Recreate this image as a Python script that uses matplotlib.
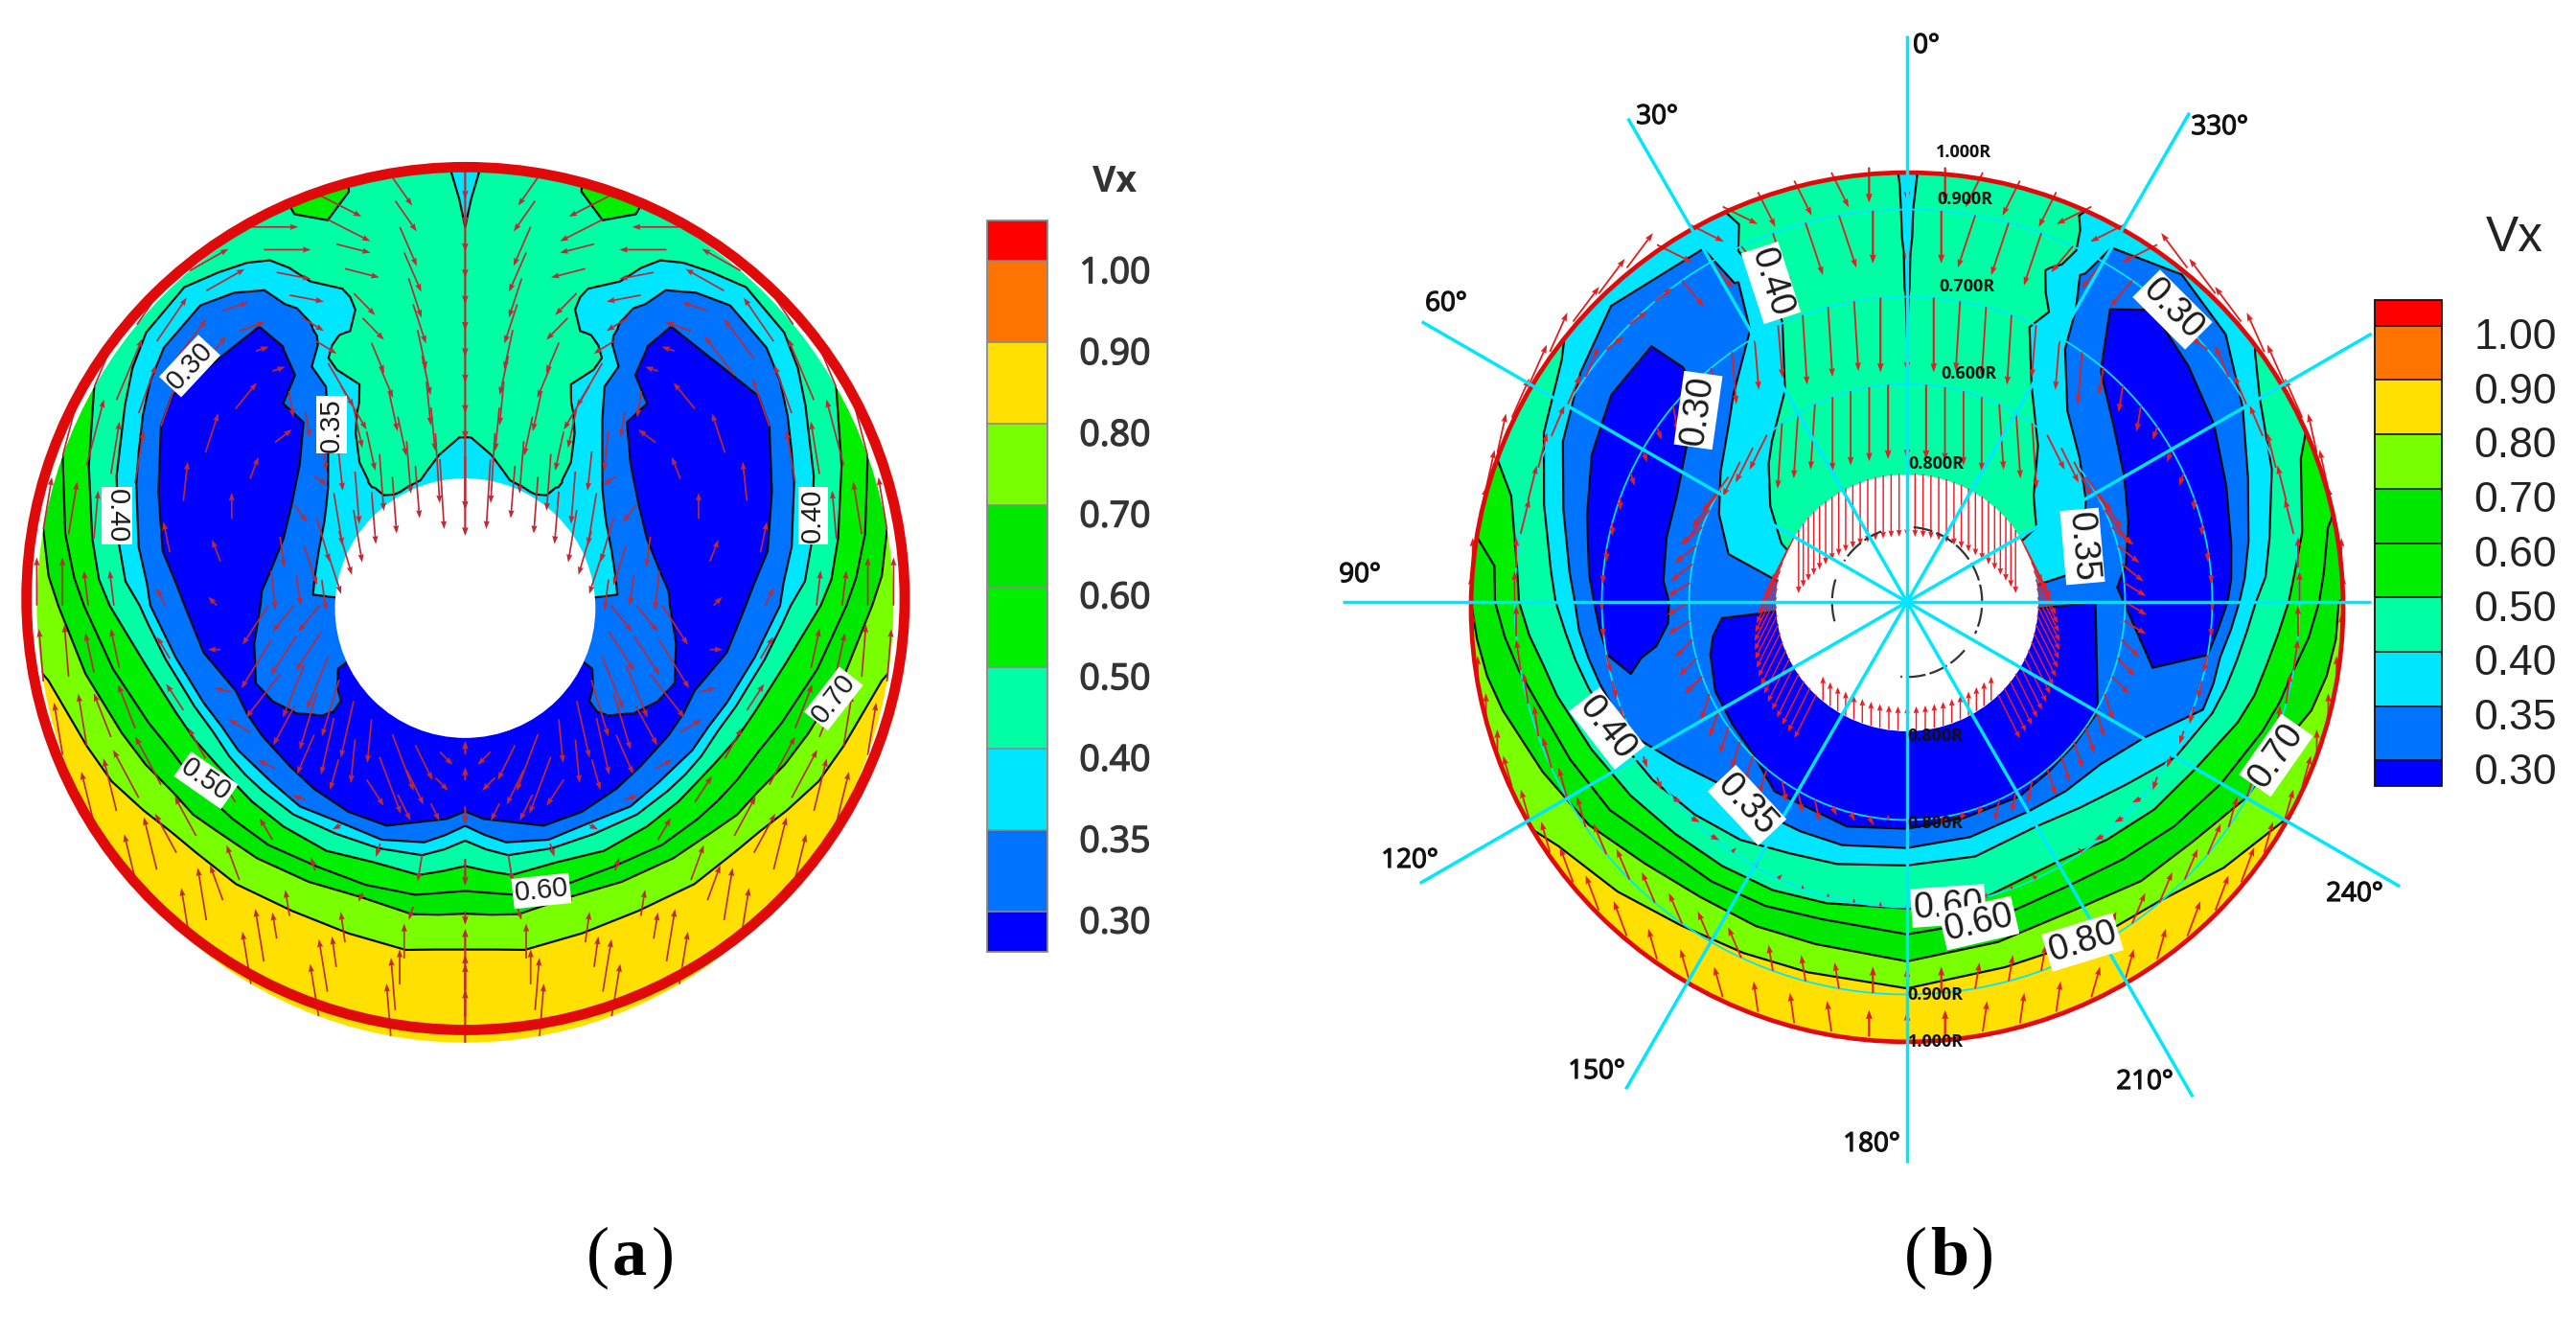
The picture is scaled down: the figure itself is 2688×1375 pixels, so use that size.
import numpy as np
import matplotlib
matplotlib.use("Agg")
import matplotlib.pyplot as plt
import matplotlib.patheffects as pe
from matplotlib.colors import ListedColormap, BoundaryNorm
from matplotlib.colorbar import Colorbar
from matplotlib.patches import Ellipse, Circle
from matplotlib.transforms import ScaledTranslation
from matplotlib.tri import Triangulation

W, H = 2688, 1375

# ---------- shared scale ----------
LEVELS = [0.30, 0.35, 0.40, 0.50, 0.60, 0.70, 0.80, 0.90, 1.00]
LEVEL_TEXT = ["0.30", "0.35", "0.40", "0.50", "0.60", "0.70", "0.80", "0.90", "1.00"]
COLORS = ["#0000ff", "#0073ff", "#00e6ff", "#00ffa5", "#00f000", "#00e800",
          "#78ff00", "#ffe000", "#ff7300", "#ff0000"]

# ---------- panel (a): Vx samples along rays, theta from the top, right half (mirrored) ----------
A_THETA = [0, 2, 10, 16, 20, 24, 26, 28, 30, 33, 37, 42, 50, 55, 60, 70, 80, 86, 90, 100, 110, 116, 122, 127, 132, 140, 150, 160, 170, 175, 180]
A_R = [
 [.29,.397,.65,.80,.866,.93,1.03],
 [.29,.385,.65,.80,.866,.93,1.0,1.03],
 [.29,.35,.65,.80,.90,1.03],
 [.29,.321,.65,.85,.985,1.03],
 [.29,.305,.65,.85,.938,1.03],
 [.29,.303,.65,.85,.98,1.03],
 [.29,.303,.42,.563,.70,.825,.95,1.03],
 [.29,.302,.41,.527,.70,.875,.96,1.03],
 [.29,.301,.40,.506,.688,.74,.785,.912,.97,1.03],
 [.29,.303,.38,.469,.597,.73,.86,.935,.98,1.03],
 [.29,.316,.36,.41,.532,.60,.66,.73,.799,.896,.955,1.03],
 [.29,.478,.564,.72,.855,.924,.98,1.03],
 [.29,.418,.504,.68,.851,.918,.972,1.03],
 [.29,.396,.473,.66,.836,.897,.948,1.03],
 [.29,.38,.467,.64,.82,.869,.917,1.0,1.03],
 [.29,.364,.451,.61,.762,.817,.866,.935,1.0,1.03],
 [.29,.357,.461,.60,.717,.774,.821,.884,.948,1.0,1.03],
 [.29,.356,.476,.58,.675,.745,.795,.857,.915,.975,1.03],
 [.29,.478,.57,.655,.735,.76,.83,.89,.95,1.03],
 [.29,.50,.56,.62,.686,.71,.76,.835,.90,.988,1.03],
 [.29,.52,.545,.57,.65,.673,.718,.786,.853,.94,1.03],
 [.29,.33,.42,.50,.53,.566,.632,.656,.702,.762,.83,.918,1.03],
 [.29,.352,.39,.465,.51,.56,.625,.65,.685,.75,.805,.885,1.03],
 [.29,.363,.39,.418,.47,.553,.613,.643,.675,.74,.795,.86,1.03],
 [.29,.40,.48,.55,.606,.635,.67,.73,.775,.845,1.03],
 [.29,.548,.60,.624,.66,.715,.755,.832,1.03],
 [.29,.545,.575,.603,.648,.69,.73,.807,1.03],
 [.29,.536,.57,.591,.625,.68,.71,.798,1.03],
 [.29,.52,.55,.58,.626,.672,.717,.80,1.03],
 [.29,.49,.527,.56,.61,.66,.71,.79,1.03],
 [.29,.471,.504,.538,.596,.653,.705,.787,1.03],
]
A_V = [
 [.385,.40,.47,.43,.40,.385,.37],
 [.385,.40,.47,.45,.44,.42,.40,.395],
 [.39,.40,.47,.47,.46,.45],
 [.395,.40,.47,.48,.50,.505],
 [.395,.40,.47,.48,.50,.53],
 [.395,.40,.47,.48,.50,.505],
 [.395,.40,.44,.40,.37,.40,.46,.47],
 [.395,.40,.43,.40,.36,.40,.46,.47],
 [.395,.40,.43,.40,.35,.345,.35,.40,.46,.47],
 [.39,.40,.415,.40,.35,.32,.35,.40,.46,.47],
 [.385,.40,.405,.40,.35,.32,.30,.29,.30,.35,.40,.46],
 [.385,.35,.30,.28,.30,.35,.40,.45],
 [.375,.35,.30,.27,.30,.35,.40,.46],
 [.372,.35,.30,.27,.30,.35,.40,.47],
 [.37,.35,.30,.27,.30,.35,.40,.50,.51],
 [.36,.35,.30,.27,.30,.35,.40,.50,.60,.62],
 [.355,.35,.30,.27,.30,.35,.40,.50,.60,.70,.71],
 [.352,.35,.30,.275,.30,.35,.40,.50,.60,.70,.73],
 [.34,.30,.28,.30,.35,.40,.50,.60,.70,.76],
 [.335,.30,.28,.30,.35,.40,.50,.60,.70,.80,.82],
 [.33,.30,.29,.30,.35,.40,.50,.60,.70,.80,.84],
 [.29,.30,.32,.30,.29,.30,.35,.40,.50,.60,.70,.80,.84],
 [.285,.30,.31,.30,.285,.30,.35,.40,.50,.60,.70,.80,.85],
 [.28,.30,.305,.30,.285,.30,.35,.40,.50,.60,.70,.80,.85],
 [.28,.285,.285,.30,.35,.40,.50,.60,.70,.80,.85],
 [.28,.30,.35,.40,.50,.60,.70,.80,.85],
 [.28,.30,.35,.40,.50,.60,.70,.80,.85],
 [.28,.30,.35,.40,.50,.60,.70,.80,.85],
 [.28,.30,.35,.40,.50,.60,.70,.80,.85],
 [.28,.30,.35,.40,.50,.60,.70,.80,.85],
 [.28,.30,.35,.40,.50,.60,.70,.80,.85],
]

# panel (a) velocity vectors, in 0.01 R, rows = theta, columns = radius
A_ARROW_THETA = [0, 10, 20, 30, 40, 50, 60, 70, 80, 90, 100, 110, 120, 130, 140, 150, 160, 170, 180]
A_ARROW_R = [.34, .46, .58, .70, .82, .94]
A_ARROW_U = [
 [0,0,0,0,0,0],[-1,-1,-2,-3,-4,-5],[-1,-2,-3,-5,-8,-10],[-1,-2,-6,-5,-8,-11],
 [-1,-1,-1,-3,-6,-9],[-2,-3,-4,-5,-7,-7],[-3,-3,-2,-3,-4,-6],[-3,-1,0,-1,-2,-4],
 [-1,-1,2,1.5,-1,-2],[5,6,2,2,1,0],[6,7,3,3,2,1],[5,8,4,4,4,2],
 [4,5,5,4,6,3],[3,4,4,4,5,3],[1,2,3,3,3,2],[-5,-4,2,1,1,2],
 [-4,-3,1,1,1,2],[-3,-2,1,1,0,1],[0,0,0,0,0,0]]
A_ARROW_V = [
 [-18,-8,-7,-7,-7,-7],[-16,-10,-9,-9,-9,-7],[-12,-9,-7,-5,-2,-5],[-13,-9,-10,-3,-1.5,0],
 [-12,-9,-6,1,2,5],[-12,-2,3,6,9,10],[-10,-4,5,9,11,14],[-9,-7,6,9,12,15],
 [-7,-9,5,7,11,12],[-6,-9,2,4,8,11],[-9,-11,0,5,9,12],[-12,-10,1,6,10,12],
 [-13,-9,3,7,11,12],[-13,-9,2,6,9,12],[-10,-7,1,5,8,12],[-13,-6,-1,3,6,12],
 [-8,-6,-3,-2,7,12],[-3,-4,-6,-3,8,12],[3,-4,-6,-3,8,12]]

# ---------- panel (b): Vx samples along rays, theta counter-clockwise from the top ----------
B_THETA = [0, 2, 15, 20, 24, 30, 40, 45, 55, 65, 75, 85, 90, 95, 100, 105, 115, 125, 135, 145, 155, 165, 180,
           195, 210, 220, 230, 240, 250, 255, 260, 265, 270, 274, 280, 290, 300, 310, 320, 330, 336, 340, 345, 358, 360]
_R_TOP0 = [.29,.50,.604,.70,.80,.90,1.03]
_V_TOP0 = [.46,.43,.40,.39,.385,.38,.37]
_R_TOP2 = [.29,.50,.604,.70,.80,.90,1.03]
_V_TOP2 = [.46,.46,.47,.46,.44,.425,.41]
_R_TOP15 = [.29,.50,.65,.80,.95,1.03]
_V_TOP15 = [.47,.48,.48,.48,.47,.47]
_R_TOP20 = [.29,.50,.70,.85,.95,1.03]
_V_TOP20 = [.47,.47,.47,.46,.45,.44]
B_R = [
 _R_TOP0, _R_TOP2, _R_TOP15, _R_TOP20,
 [.29,.50,.703,.83,.948,1.03],
 [.29,.56,.72,.83,.935,1.03],
 [.29,.482,.62,.80,.982,1.03],
 [.29,.449,.578,.679,.75,.829,.96,1.03],
 [.29,.383,.522,.618,.72,.828,.915,.967,1.03],
 [.29,.318,.476,.582,.69,.798,.871,.919,1.03],
 [.29,.424,.571,.67,.76,.816,.862,.94,1.03],
 [.29,.561,.65,.732,.777,.82,.898,.95,1.03],
 [.29,.546,.63,.718,.762,.806,.89,.945,1.0,1.03],
 [.29,.426,.47,.55,.63,.708,.755,.787,.87,.926,.99,1.03],
 [.29,.452,.52,.584,.64,.698,.742,.772,.846,.904,.978,1.03],
 [.29,.467,.60,.729,.757,.831,.88,.96,1.03],
 [.29,.485,.60,.708,.734,.799,.853,.922,1.03],
 [.29,.489,.643,.712,.774,.832,.891,.976,1.03],
 [.29,.497,.596,.689,.752,.794,.849,.939,1.03],
 [.29,.53,.587,.666,.739,.782,.826,.905,1.03],
 [.29,.55,.58,.636,.729,.769,.82,.888,1.03],
 [.29,.533,.577,.622,.715,.753,.812,.879,1.03],
 [.29,.52,.564,.604,.703,.762,.824,.886,1.03],
 [.29,.512,.558,.604,.70,.755,.807,.867,1.03],
 [.29,.515,.555,.594,.688,.749,.806,.884,1.03],
 [.29,.507,.566,.616,.712,.77,.835,.897,1.03],
 [.29,.504,.579,.653,.74,.80,.855,.948,1.03],
 [.29,.505,.625,.711,.764,.832,.898,1.0,1.03],
 [.29,.529,.722,.745,.807,.867,.927,1.03],
 [.29,.583,.727,.757,.825,.885,.96,1.03],
 [.29,.70,.729,.768,.837,.90,.977,1.03],
 [.29,.60,.716,.745,.782,.854,.925,.987,1.03],
 [.29,.432,.60,.735,.762,.80,.875,.945,.99,1.03],
 [.29,.483,.62,.745,.776,.824,.89,.958,1.03],
 [.29,.393,.51,.63,.755,.795,.844,.92,.98,1.03],
 [.29,.433,.54,.66,.779,.832,.89,.961,1.03],
 [.29,.342,.473,.575,.70,.813,.889,.934,1.03],
 [.29,.379,.516,.62,.73,.842,.954,1.03],
 [.29,.467,.572,.691,.78,.874,.98,1.03],
 [.29,.571,.774,.86,.938,1.03],
 [.29,.50,.69,.83,.97,1.03],
 _R_TOP20, _R_TOP15, _R_TOP2, _R_TOP0,
]
_V_BOT = [.28,.30,.35,.40,.50,.60,.70,.80]
B_V = [
 _V_TOP0, _V_TOP2, _V_TOP15, _V_TOP20,
 [.47,.46,.40,.385,.40,.41],
 [.46,.40,.35,.33,.35,.38],
 [.44,.40,.35,.32,.35,.37],
 [.43,.40,.35,.30,.295,.30,.35,.37],
 [.42,.40,.35,.30,.27,.30,.35,.40,.44],
 [.41,.40,.35,.30,.27,.30,.35,.40,.47],
 [.37,.35,.30,.27,.30,.35,.40,.50,.55],
 [.34,.30,.27,.30,.35,.40,.50,.60,.66],
 [.34,.30,.27,.30,.35,.40,.50,.60,.70,.72],
 [.29,.30,.32,.30,.27,.30,.35,.40,.50,.60,.70,.72],
 [.28,.30,.33,.30,.28,.30,.35,.40,.50,.60,.70,.74],
 [.28,.30,.33,.35,.40,.50,.60,.70,.76],
 [.28,.30,.33,.35,.40,.50,.60,.70,.78],
 _V_BOT + [.83],
 _V_BOT + [.86],
 _V_BOT + [.86],
 _V_BOT + [.87],
 _V_BOT + [.87],
 _V_BOT + [.87],
 _V_BOT + [.87],
 _V_BOT + [.87],
 _V_BOT + [.87],
 _V_BOT + [.86],
 _V_BOT + [.81],
 [.28,.30,.35,.40,.50,.60,.70,.78],
 [.28,.30,.35,.40,.50,.60,.70,.76],
 [.28,.30,.35,.40,.50,.60,.70,.73],
 [.28,.27,.30,.35,.40,.50,.60,.70,.73],
 [.34,.30,.27,.30,.35,.40,.50,.60,.70,.72],
 [.34,.30,.27,.30,.35,.40,.50,.60,.66],
 [.36,.35,.30,.27,.30,.35,.40,.50,.60,.64],
 [.37,.35,.30,.27,.30,.35,.40,.50,.54],
 [.41,.40,.35,.30,.27,.30,.35,.40,.47],
 [.42,.40,.35,.30,.27,.30,.35,.39],
 [.43,.40,.35,.30,.27,.30,.35,.37],
 [.46,.40,.35,.33,.35,.38],
 [.47,.46,.40,.385,.40,.41],
 _V_TOP20, _V_TOP15, _V_TOP2, _V_TOP0,
]

# panel (b) velocity vectors on measurement rings, in 0.01 R, left half (mirrored)
B_ARROW_THETA = [0, 15, 30, 45, 60, 75, 90, 105, 120, 135, 150, 165, 180]
B_RINGS = [0.5, 0.7, 0.9, 1.0]
B_ARROW_U = [
 [0,0,-1,-4,-6,-5,-5,-4,-2,-2,1,1,0],
 [0,1,1,1,1,0,0,1,1,2,1,0,0],
 [0,4,5,4,3,2,0,-1,-2,-3,-3,-1,0],
 [0,4,8,6,4,2,0,0,-2,-3,-2,-1,0]]
B_ARROW_V = [
 [-17,-17,-15,-8,-8,-4,-3,-4,-6,-6,-5,-2,1],
 [-17,-16,-12,-6,-3,-3,-2,-4,-3,-1,1,1,1],
 [-12,-12,-6,3,7,8,7,7,7,7,7,6,6],
 [-8,-8,-4,8,9,9,6,5,7,8,7,7,6]]
HUB_TOP_ANGLES = np.arange(-56, 57, 3.5)
HUB_SIDE_ANGLES = np.arange(60, 137, 4)
HUB_BOTTOM_ANGLES = np.arange(140, 221, 4)
R_MARK_TEXT = ["1.000R", "0.900R", "0.700R", "0.600R", "0.800R", "0.800R", "0.800R", "0.900R", "1.000R"]
SPOKE_ANGLES = [0, 30, 60, 90, 120, 150, 180, 210, 240, 270, 300, 330]
SPOKE_LENGTH = [1.30, 1.28, 1.285, 1.295, 1.29, 1.29, 1.285, 1.31, 1.305, 1.063, 1.23, 1.295]
RING_RADII = [0.5, 0.7, 0.9]

# ---------- drawing ----------
fig = plt.figure(figsize=(W / 100, H / 100), dpi=100, facecolor="white")
SANS = "Liberation Sans"
OPEN = "Open Sans"


def field_axes(cx, cy, rx, ry, ext):
    ax = fig.add_axes([(cx - ext * rx) / W, 1 - (cy + ext * ry) / H, 2 * ext * rx / W, 2 * ext * ry / H])
    ax.set_xlim(-ext, ext)
    ax.set_ylim(-ext, ext)
    ax.axis("off")
    ax.patch.set_alpha(0)
    return ax


def field(ax, theta, r, v, sign, clip):
    t = np.radians(np.asarray(theta, float))
    r = np.asarray(r, float)
    v = np.asarray(v, float)
    tri = Triangulation(t * 0.35, r)
    grid = Triangulation(sign * r * np.sin(t), r * np.cos(t), triangles=tri.triangles)
    fills = ax.tricontourf(grid, v, levels=[0.0] + LEVELS + [2.0], colors=COLORS, antialiased=True)
    lines = ax.tricontour(grid, v, levels=LEVELS[:7], colors="#0a0a0a", linewidths=1.6)
    ax.add_patch(clip)
    fills.set_clip_path(clip)
    lines.set_clip_path(clip)


def tag(ax, x, y, s, rot, size):
    ax.text(x, y, s, rotation=rot, rotation_mode="anchor", ha="center", va="center", fontsize=size,
            family=SANS, color="#1c1c1c", zorder=20,
            bbox=dict(boxstyle="square,pad=0.06", fc="white", ec="none"))


def scale_bar(box, pad, size, family, color, edge, frac, heavy):
    cax = fig.add_axes([box[0] / W, 1 - box[3] / H, (box[2] - box[0]) / W, (box[3] - box[1]) / H])
    cmap = ListedColormap(COLORS[1:-1]).with_extremes(under=COLORS[0], over=COLORS[-1])
    norm = BoundaryNorm(LEVELS, cmap.N)
    sm = matplotlib.cm.ScalarMappable(norm=norm, cmap=cmap)
    cb = Colorbar(cax, sm, extend="both", extendrect=True, extendfrac=frac, spacing="uniform",
                  ticks=LEVELS, drawedges=True)
    cb.ax.set_yticklabels(LEVEL_TEXT)
    cb.ax.tick_params(length=0, pad=pad, labelsize=size, labelcolor=color)
    cb.outline.set_edgecolor(edge)
    cb.outline.set_linewidth(1.3)
    cb.dividers.set_color(edge)
    cb.dividers.set_linewidth(1.2)
    shift = ScaledTranslation(0, -6 / 72, fig.dpi_scale_trans)
    for lab in cb.ax.get_yticklabels():
        lab.set_family(family)
        lab.set_transform(lab.get_transform() + shift)
        if heavy:
            lab.set_path_effects([pe.withStroke(linewidth=1.0, foreground=color)])
    return cb


# ----- panel (a) -----
ax_a = field_axes(485.4, 631.7, 447, 456, 1.16)
ta, ra, va = [], [], []
for th, rr, vv in zip(A_THETA, A_R, A_V):
    for sgn in ((1, -1) if th > 0 else (1,)):
        ta += [sgn * th] * len(rr)
        ra += rr
        va += vv
field(ax_a, ta, ra, va, 1, Circle((0, 0), 1.0, transform=ax_a.transData, fc="none", ec="none"))
ax_a.add_patch(Ellipse((0, -.006), .608, .594, fc="white", ec="none", zorder=5))

tail_th = np.repeat(A_ARROW_THETA, len(A_ARROW_R))
tail_t = np.radians(tail_th)
tail_base = np.tile(A_ARROW_R, len(A_ARROW_THETA))
u_a = np.array(A_ARROW_U, float).ravel() / 100
v_a = np.array(A_ARROW_V, float).ravel() / 100
dense = (tail_th <= 40) | (tail_base >= .8) | (tail_base <= .34)
for tail_r, keep in ((tail_base, np.ones_like(dense)), (tail_base + .06, dense)):
    keep = keep.astype(bool)
    for sgn in (1, -1):
        ax_a.quiver(sgn * tail_r[keep] * np.sin(tail_t[keep]), tail_r[keep] * np.cos(tail_t[keep]),
                    sgn * u_a[keep], v_a[keep], angles="xy", scale_units="xy", scale=1, units="xy",
                    width=.0038, headwidth=3.6, headlength=5, headaxislength=4.5, color="#bc2a36", zorder=6)
ax_a.add_patch(Ellipse((.001, .016), 2.05, 1.974, fc="none", ec="#e00a0a", lw=7.8, zorder=8))

A_TAGS = [(-.643, .548, "0.30", 47), (-.312, .413, "0.35", 90), (-.813, .205, "0.40", -90),
          (.812, .205, "0.40", 90), (-.605, -.40, "0.50", -35), (.86, -.213, "0.70", 52), (.178, -.653, "0.60", 6)]
for x, y, s, rot in A_TAGS:
    tag(ax_a, x, y, s, rot, 21)

scale_bar((1030, 230, 1093, 993), 24, 27, OPEN, "#333333", "#8a8a8a", .5 / 8, True)

# ----- panel (b) -----
ax_b = field_axes(1990, 628, 455, 455, 1.36)
tb, rb, vb = [], [], []
for th, rr, vv in zip(B_THETA, B_R, B_V):
    tb += [th] * len(rr)
    rb += rr
    vb += vv
field(ax_b, tb, rb, vb, -1, Ellipse((0, -.012), 2.0, 1.993, transform=ax_b.transData, fc="none", ec="none"))
ax_b.add_patch(Ellipse((0, -.002), .602, .589, fc="white", ec="none", zorder=5))

arc_t = np.radians(np.arange(0, 361, 2))
for rad in RING_RADII:
    ax_b.plot(rad * np.sin(arc_t), rad * np.cos(arc_t), color="#00e6ff", lw=1.3, zorder=6)

for rad, us, vs in zip(B_RINGS, B_ARROW_U, B_ARROW_V):
    xs, ys, uu, vv = [], [], [], []
    for th, uv, vv1 in zip(B_ARROW_THETA, us, vs):
        for off in (-5, 0, 5):
            a = np.radians(th + off)
            for sgn in (-1, 1):
                xs.append(sgn * rad * np.sin(a))
                ys.append(rad * np.cos(a))
                uu.append(-sgn * uv / 100)
                vv.append(vv1 / 100)
    ax_b.quiver(xs, ys, uu, vv, angles="xy", scale_units="xy", scale=1, units="xy", width=.004,
                headwidth=3.5, headlength=5, headaxislength=4.5, color="#e02020", zorder=7)

hub_groups = [(HUB_TOP_ANGLES, 0.0, -.145), (HUB_SIDE_ANGLES, .05, -.10), (-HUB_SIDE_ANGLES, -.05, -.10),
              (HUB_BOTTOM_ANGLES, 0.0, .055)]
for angs, hu, hv in hub_groups:
    a = np.radians(angs)
    ax_b.quiver(.3 * np.sin(a), .295 * np.cos(a), np.full(a.shape, hu), np.full(a.shape, hv), angles="xy",
                scale_units="xy", scale=1, units="xy", width=.0032, headwidth=4, headlength=5,
                headaxislength=4.5, color="#ee1c25", zorder=7)

for start, stop in [(-20, -57), (5, 115), (130, 185), (255, 290)]:
    a = np.radians(np.linspace(start, stop, 40))
    ax_b.plot(.172 * np.sin(a), .172 * np.cos(a), color="#333333", lw=1.6, ls=(0, (9, 2)), zorder=7)

for ang, ln in zip(SPOKE_ANGLES, SPOKE_LENGTH):
    a = np.radians(ang)
    ax_b.plot([0, -ln * np.sin(a)], [0, ln * np.cos(a)], color="#00e6ff", lw=2.5, zorder=9, solid_capstyle="butt")

ax_b.add_patch(Ellipse((0, -.012), 2.0, 1.993, fc="none", ec="#e00a0a", lw=3.4, zorder=8))

# ----- overlay: pixel-placed text -----
ov = fig.add_axes([0, 0, 1, 1])
ov.set_xlim(0, W)
ov.set_ylim(H, 0)
ov.axis("off")
ov.patch.set_alpha(0)

for x, y, s, rot in [(1848, 295, "0.40", -72), (1772, 428, "0.30", 82), (2267, 323, "0.30", -45),
                     (2173, 570, "0.35", -85), (1677, 760, "0.40", -52), (1823, 840, "0.35", -47),
                     (2375, 788, "0.70", 55), (2033, 945, "0.60", 4), (2173, 983, "0.80", 17),
                     (2065, 963, "0.60", 13)]:
    tag(ov, x, y, s, rot, 27)

R_POS = [(2049, 159), (2050, 208), (2052, 299), (2054, 390), (2020, 484), (2019, 768), (2019, 859), (2019, 1038), (2020, 1087)]
for (x, y), s in zip(R_POS, R_MARK_TEXT):
    ov.text(x, y, s, ha="center", va="center", fontsize=13, family=OPEN, fontweight="bold", color="#111111", zorder=12)

DEG_POS = [(2010, 48, "0°"), (1729, 122, "30°"), (2316, 133, "330°"), (1509, 317, "60°"), (1419, 600, "90°"),
           (1471, 898, "120°"), (1666, 1118, "150°"), (1953, 1194, "180°"), (2238, 1129, "210°"), (2457, 933, "240°")]
for x, y, s in DEG_POS:
    ov.text(x, y, s, ha="center", va="center", fontsize=20, family=OPEN, color="#111111",
            path_effects=[pe.withStroke(linewidth=.9, foreground="#111111")])

ov.text(1163, 190, "Vx", ha="center", va="center", fontsize=27, family=OPEN, fontweight="bold", color="#333333")
ov.text(2624, 248, "Vx", ha="center", va="center", fontsize=37, family=SANS, color="#222222")

for x, s, w in [(624, "(", "normal"), (657, "a", "bold"), (692, ")", "normal"),
                (1999, "(", "normal"), (2034, "b", "bold"), (2069, ")", "normal")]:
    ov.text(x, 1312, s, ha="center", va="center", fontsize=52, family="Liberation Serif", fontweight=w, color="black")

scale_bar((2478, 313, 2548, 820), 24, 32, SANS, "#222222", "#111111", .47 / 8, False)

fig.savefig("out.png", dpi=100)
